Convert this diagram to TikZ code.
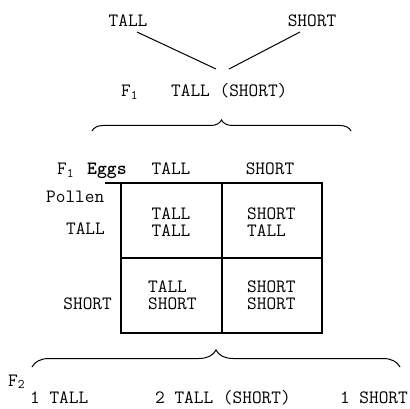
\documentclass[tikz,border=0pt]{standalone}
\usepackage{fontspec}
\usetikzlibrary{decorations.pathreplacing}
\begin{document}
\begin{tikzpicture}[x=1pt,y=-1pt,
  txt/.style={inner sep=0pt,font=\fontsize{18.8}{17}\selectfont\ttfamily},
  celltxt/.style={txt,align=left},
  ln/.style={line width=1pt,black},
  grid/.style={line width=1.1pt,black},
  brc/.style={line width=1pt,decorate,decoration={brace,amplitude=#1}}]
\useasboundingbox (0,0) rectangle (410,409);
% top parents
\node[txt,anchor=base] (ptall) at (128,27) {TALL};
\node[txt,anchor=base] (pshort) at (312,27) {SHORT};
\coordinate (a1) at (137,32);
\coordinate (a2) at (216,69);
\coordinate (b1) at (300,32);
\coordinate (b2) at (229,69);
\draw[ln] (a1) -- (a2);
\draw[ln] (b1) -- (b2);
% F1
\node[txt,anchor=base west] (f1) at (121,97) {F\textsubscript{1}};
\node[txt,anchor=base west] (f1t) at (171,97) {TALL (SHORT)};
\coordinate (br1l) at (92,131);
\coordinate (br1r) at (351,131);
\draw[brc=11pt] (br1l) -- (br1r);
% grid header
\node[txt,anchor=base west] (f1e) at (57,175) {F\textsubscript{1}};
\node[txt,anchor=base west,font=\fontsize{18.8}{17}\selectfont\ttfamily\bfseries] (eggs) at (87,175) {Eggs};
\node[txt,anchor=base] (htall) at (171,175) {TALL};
\node[txt,anchor=base] (hshort) at (270,175) {SHORT};
\node[txt,anchor=base west] (pollen) at (46,203) {Pollen};
\node[txt,anchor=base east] (rtall) at (105,235) {TALL};
\node[txt,anchor=base east] (rshort) at (112,309) {SHORT};
% grid
\coordinate (g0) at (105,183);
\coordinate (g1) at (121,183);
\coordinate (g2) at (222,183);
\coordinate (g3) at (322,183);
\coordinate (m1) at (121,258);
\coordinate (m3) at (322,258);
\coordinate (h1) at (121,333);
\coordinate (h2) at (222,333);
\coordinate (h3) at (322,333);
\draw[grid] (g0) -- (g3) -- (h3) -- (h1) -- (g1);
\draw[grid] (g2) -- (h2);
\draw[grid] (m1) -- (m3);
% cells
\node[celltxt,align=center,anchor=center] (c11) at (171,222.5) {TALL\\TALL};
\node[celltxt,anchor=west] (c12) at (247,222.5) {SHORT\\TALL};
\node[celltxt,anchor=west] (c21) at (148,295.5) {TALL\\SHORT};
\node[celltxt,anchor=west] (c22) at (247,295.5) {SHORT\\SHORT};
% F2
\coordinate (br2l) at (32,367);
\coordinate (br2r) at (400,367);
\draw[brc=17pt] (br2l) -- (br2r);
\node[txt,anchor=base west] (f2) at (8,386) {F\textsubscript{2}};
\node[txt,anchor=base west] (o1) at (30,403) {1 TALL};
\node[txt,anchor=base west] (o2) at (155,403) {2 TALL (SHORT)};
\node[txt,anchor=base east] (o3) at (408,403) {1 SHORT};
\end{tikzpicture}
\end{document}
